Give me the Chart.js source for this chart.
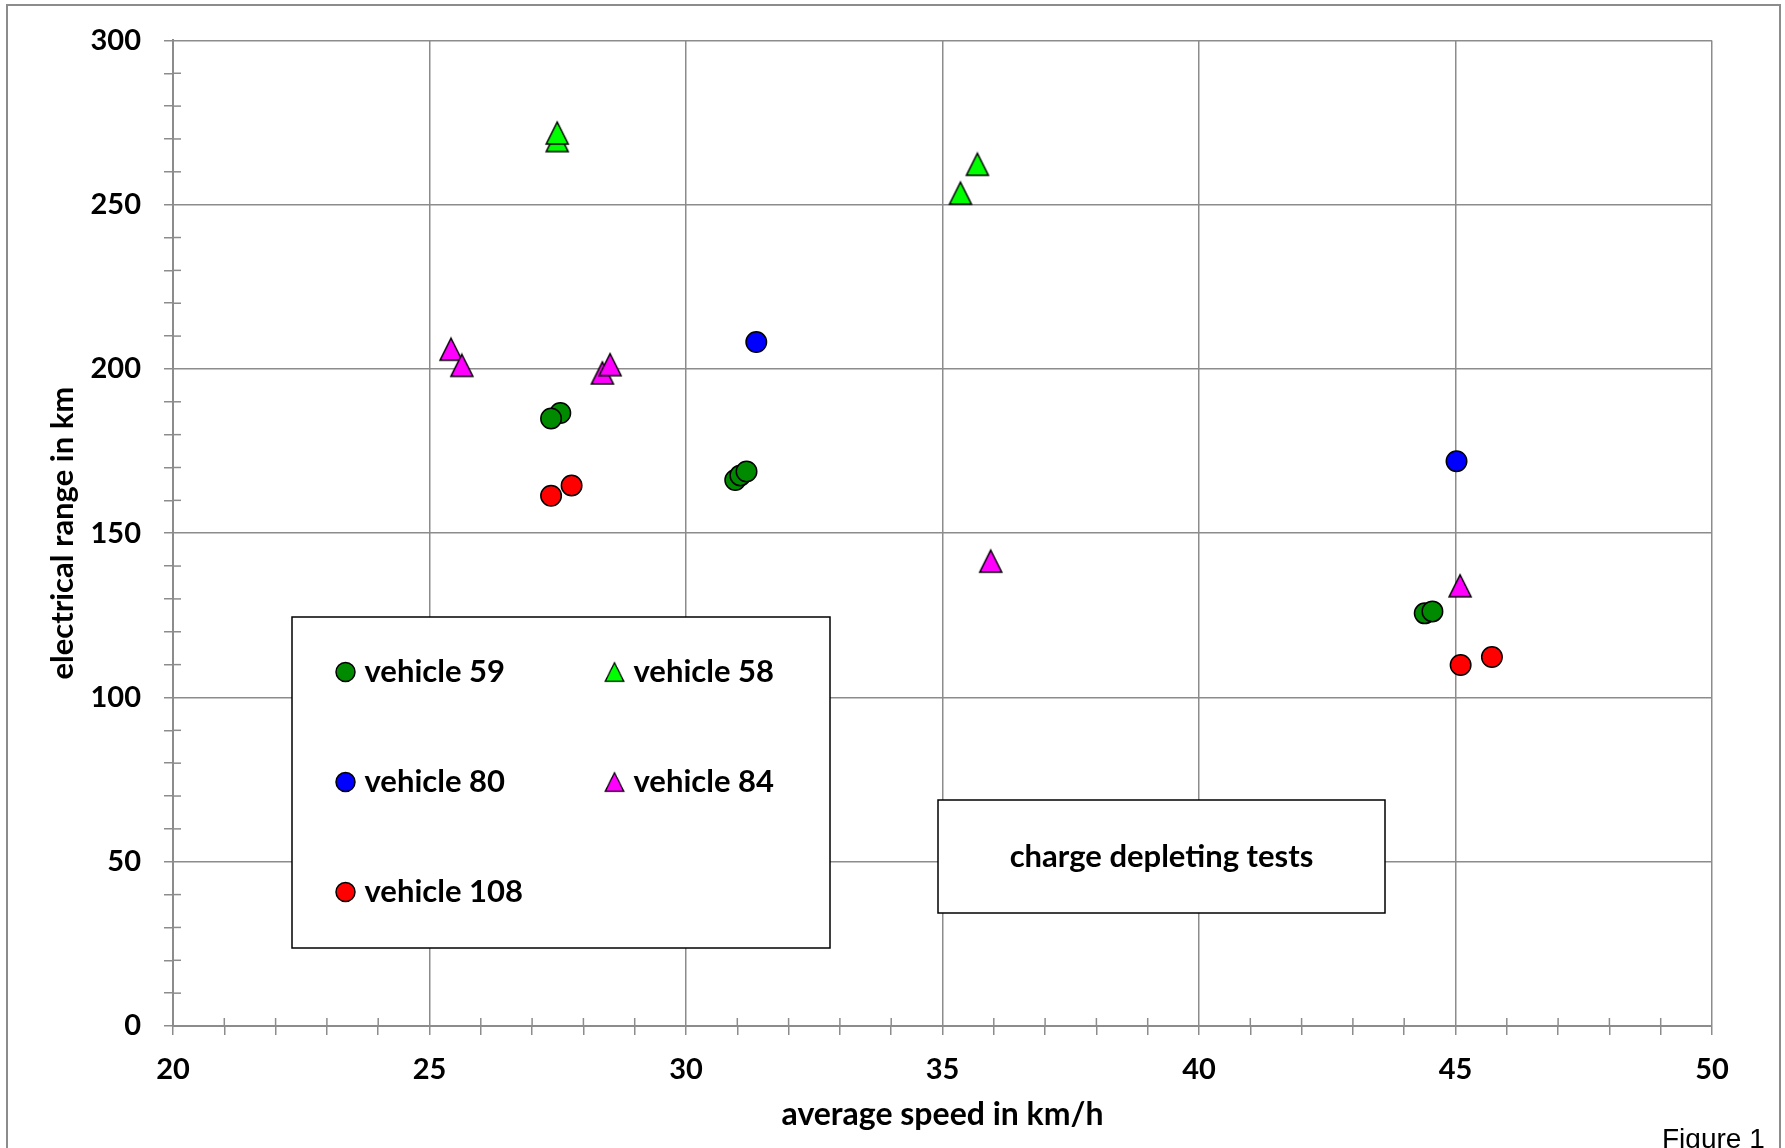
<!DOCTYPE html>
<html>
<head>
<meta charset="utf-8">
<script src="https://cdn.jsdelivr.net/npm/chart.js"></script>
<style>
   body { margin: 0; background: #fff; }
   canvas { display: block; }
</style>
</head>
<body>
<canvas id="chart" width="1785" height="1148"></canvas>
<script>
// valores (velocidade média km/h, autonomia elétrica km)
const v59Speed = [27.55, 27.37, 30.96, 31.06, 31.18, 44.40, 44.55];
const v59Range = [186.6, 184.9, 166.2, 167.6, 168.8, 125.6, 126.2];

const v58Speed = [27.49, 27.49, 35.35, 35.68];
const v58Range = [269.5, 271.8, 253.5, 262.3];

const v80Speed = [31.37, 45.02];
const v80Range = [208.2, 171.9];

const v84Speed = [25.42, 25.63, 28.37, 28.52, 35.94, 45.09];
const v84Range = [206.0, 201.1, 198.8, 201.3, 141.5, 134.0];

const v108Speed = [27.37, 27.77, 45.10, 45.71];
const v108Range = [161.4, 164.5, 109.9, 112.3];

const xTitle = 'average speed in km/h';
const yTitle = 'electrical range in km';
const boxText = 'charge depleting tests';
const figureText = 'Figure 1';

const gridColor = '#8c8c8c';
const fontFamily = 'Lato, "DejaVu Sans", sans-serif';

function toPoints(xs, ys) {
   return xs.map((x, i) => ({ x: x, y: ys[i] }));
}

// triângulo centrado na caixa (como o marcador do Excel)
function triangleMarker(fill, size) {
   const c = document.createElement('canvas');
   c.width = size + 4;
   c.height = size + 4;
   const g = c.getContext('2d');
   const m = 2;
   g.beginPath();
   g.moveTo(c.width / 2, m);
   g.lineTo(c.width - m, c.height - m);
   g.lineTo(m, c.height - m);
   g.closePath();
   g.fillStyle = fill;
   g.fill();
   g.lineWidth = 1.5;
   g.strokeStyle = '#000';
   g.stroke();
   return c;
}

const tri58 = triangleMarker('#00ff00', 22);
const tri84 = triangleMarker('#ff00ff', 22);

const datasets = [
   { label: 'vehicle 59', data: toPoints(v59Speed, v59Range), backgroundColor: '#008a00', pointStyle: 'circle', legendPos: [0, 0] },
   { label: 'vehicle 58', data: toPoints(v58Speed, v58Range), backgroundColor: '#00ff00', pointStyle: tri58, legendPos: [1, 0] },
   { label: 'vehicle 80', data: toPoints(v80Speed, v80Range), backgroundColor: '#0000ff', pointStyle: 'circle', legendPos: [0, 1] },
   { label: 'vehicle 84', data: toPoints(v84Speed, v84Range), backgroundColor: '#ff00ff', pointStyle: tri84, legendPos: [1, 1] },
   { label: 'vehicle 108', data: toPoints(v108Speed, v108Range), backgroundColor: '#ff0000', pointStyle: 'circle', legendPos: [0, 2] }
];
datasets.forEach(d => {
   d.borderColor = '#000';
   d.borderWidth = 1.5;
   d.pointRadius = 10.25;
});

function strokeLine(ctx, x1, y1, x2, y2) {
   ctx.beginPath();
   ctx.moveTo(x1, y1);
   ctx.lineTo(x2, y2);
   ctx.stroke();
}

// moldura externa + marcas menores que cruzam os eixos
const framePlugin = {
   id: 'frame',
   beforeDatasetsDraw(chart) {
      const { ctx, chartArea, scales } = chart;
      ctx.save();
      ctx.strokeStyle = gridColor;
      ctx.lineWidth = 1.5;
      scales.y.ticks.forEach(t => {
         if (t.value % 50 !== 0) {
            const py = scales.y.getPixelForValue(t.value);
            strokeLine(ctx, chartArea.left, py, chartArea.left + 8, py);
         }
      });
      scales.x.ticks.forEach(t => {
         if (t.value % 5 !== 0) {
            const px = scales.x.getPixelForValue(t.value);
            strokeLine(ctx, px, chartArea.bottom, px, chartArea.bottom - 8);
         }
      });
      ctx.lineWidth = 2;
      ctx.strokeRect(7, 5, 1773, 1300);
      ctx.restore();
   }
};

// legenda em caixa e caixa de texto
const boxesPlugin = {
   id: 'boxes',
   afterDraw(chart) {
      const ctx = chart.ctx;
      ctx.save();
      ctx.lineWidth = 1.5;
      ctx.strokeStyle = '#000';
      ctx.fillStyle = '#fff';

      // legenda
      ctx.fillRect(292, 617, 538, 331);
      ctx.strokeRect(292, 617, 538, 331);
      const colX = [345.5, 614.5];
      const rowY = [672, 782, 892];
      ctx.font = 'bold 31px ' + fontFamily;
      ctx.textBaseline = 'middle';
      ctx.textAlign = 'left';
      chart.data.datasets.forEach(d => {
         const mx = colX[d.legendPos[0]];
         const my = rowY[d.legendPos[1]];
         if (d.pointStyle === 'circle') {
            ctx.beginPath();
            ctx.arc(mx, my, 9.5, 0, Math.PI * 2);
            ctx.fillStyle = d.backgroundColor;
            ctx.fill();
            ctx.stroke();
         } else {
            ctx.drawImage(d.pointStyle, mx - 11, my - 11, 22, 22);
         }
         ctx.fillStyle = '#000';
         ctx.fillText(d.label, mx + 19, my);
      });

      // caixa "charge depleting tests"
      ctx.fillStyle = '#fff';
      ctx.fillRect(938, 800, 447, 113);
      ctx.strokeRect(938, 800, 447, 113);
      ctx.fillStyle = '#000';
      ctx.textAlign = 'center';
      ctx.fillText(boxText, 1161.5, 857);

      ctx.font = '28px "Liberation Sans", Arial, sans-serif';
      ctx.textAlign = 'left';
      ctx.textBaseline = 'top';
      ctx.fillText(figureText, 1662, 1126);
      ctx.restore();
   }
};

function draw() {
   const ctx = document.getElementById('chart');
   new Chart(ctx, {
      type: 'scatter',
      data: { datasets: datasets },
      plugins: [framePlugin, boxesPlugin],
      options: {
         responsive: false,
         animation: false,
         devicePixelRatio: 1,
         events: [],
         layout: {
            padding: { top: 36, right: 73, left: 0, bottom: 0 }
         },
         plugins: {
            legend: { display: false },
            tooltip: { enabled: false }
         },
         scales: {
            x: {
               type: 'linear',
               min: 20,
               max: 50,
               afterFit: s => { s.height = 122; },
               ticks: {
                  stepSize: 1,
                  autoSkip: false,
                  maxRotation: 0,
                  padding: 17,
                  color: '#000',
                  font: { family: fontFamily, size: 29, weight: 'bold' },
                  callback: v => (v % 5 === 0 ? v : '')
               },
               grid: {
                  color: c => (c.tick && c.tick.value % 5 === 0 ? gridColor : 'rgba(0,0,0,0)'),
                  tickColor: gridColor,
                  tickLength: 9,
                  lineWidth: 1.5
               },
               border: { color: gridColor, width: 2 },
               title: {
                  display: true,
                  text: xTitle,
                  color: '#000',
                  font: { family: fontFamily, size: 32, weight: 'bold' },
                  padding: { top: 0, bottom: 14 }
               }
            },
            y: {
               type: 'linear',
               min: 0,
               max: 300,
               afterFit: s => { s.width = 173; },
               ticks: {
                  stepSize: 10,
                  autoSkip: false,
                  padding: 23,
                  color: '#000',
                  font: { family: fontFamily, size: 29, weight: 'bold' },
                  callback: v => (v % 50 === 0 ? v : '')
               },
               grid: {
                  color: c => (c.tick && c.tick.value % 50 === 0 ? gridColor : 'rgba(0,0,0,0)'),
                  tickColor: gridColor,
                  tickLength: 9,
                  lineWidth: 1.5
               },
               border: { color: gridColor, width: 2 },
               title: {
                  display: true,
                  text: yTitle,
                  color: '#000',
                  font: { family: fontFamily, size: 31, weight: 'bold' },
                  padding: { top: 44, bottom: 0 }
               }
            }
         }
      }
   });
}

document.fonts.load('bold 30px Lato').then(draw, draw);
</script>
</body>
</html>
